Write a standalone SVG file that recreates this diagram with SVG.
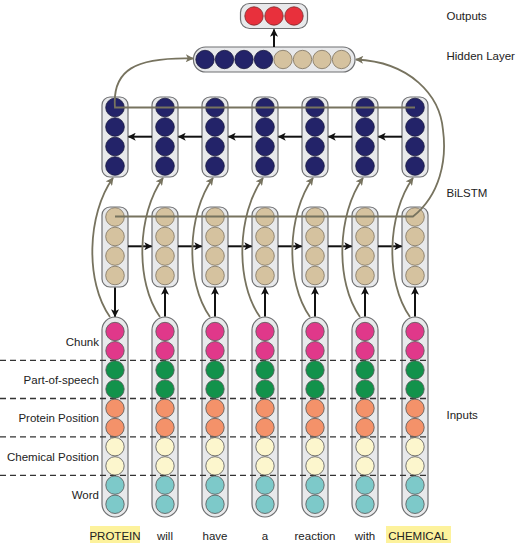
<svg xmlns="http://www.w3.org/2000/svg" width="520" height="545" viewBox="0 0 520 545">
<style>
.col{fill:#e8e9eb;stroke:#6f7072;stroke-width:1.2}
circle{stroke:#555;stroke-width:0.8}
.ck{fill:#e0388a}.ps{fill:#12924b}.pp{fill:#f4926a}.cp{fill:#fcf6cd}.wd{fill:#7dc9c9}
.nv{fill:#232369;stroke:#1a1a40}.tn{fill:#d5c29f;stroke:#7d7260}.rd{fill:#e8303c;stroke:#7a2a2a}
.blk{fill:none;stroke:#111;stroke-width:2}
.brn{fill:none;stroke:#77735f;stroke-width:1.8}
.dash{stroke:#333;stroke-width:1.3;stroke-dasharray:6 4}
text{font-family:"Liberation Sans",Arial,sans-serif;font-size:11.5px;fill:#222}
.lab{text-anchor:end}
.wrd{text-anchor:middle}
.hl{fill:#fdf29c}
</style>
<defs>
<marker id="ab" viewBox="0 0 10 10" refX="9" refY="5" markerWidth="9" markerHeight="8" markerUnits="userSpaceOnUse" orient="auto"><path d="M0,0 L10,5 L0,10 L2.5,5 z" fill="#111"/></marker>
<marker id="ar" viewBox="0 0 10 10" refX="9" refY="5" markerWidth="9" markerHeight="8" markerUnits="userSpaceOnUse" orient="auto"><path d="M0,0 L10,5 L0,10 L2.5,5 z" fill="#77735f"/></marker>
</defs>

<g id="output">
<rect class="col" x="240.5" y="3.5" width="67" height="25" rx="9"/>
<circle class="rd" cx="254" cy="16" r="9.2"/><circle class="rd" cx="274" cy="16" r="9.2"/><circle class="rd" cx="294" cy="16" r="9.2"/>
</g>
<g id="hidden">
<rect class="col" x="193.5" y="47" width="161.5" height="25" rx="12"/>
<circle class="nv" cx="205" cy="59.5" r="9.2"/><circle class="nv" cx="224.5" cy="59.5" r="9.2"/><circle class="nv" cx="244" cy="59.5" r="9.2"/><circle class="nv" cx="263.5" cy="59.5" r="9.2"/>
<circle class="tn" cx="283" cy="59.5" r="9.2"/><circle class="tn" cx="302.5" cy="59.5" r="9.2"/><circle class="tn" cx="322" cy="59.5" r="9.2"/><circle class="tn" cx="341.5" cy="59.5" r="9.2"/>
</g>

<g id="backward">
<g id="bw1"><rect class="col" x="102" y="97" width="26" height="80" rx="8"/><circle class="nv" cx="115" cy="107.5" r="9.3"/><circle class="nv" cx="115" cy="127" r="9.3"/><circle class="nv" cx="115" cy="146.5" r="9.3"/><circle class="nv" cx="115" cy="166" r="9.3"/></g>
<g id="bw2"><rect class="col" x="152" y="97" width="26" height="80" rx="8"/><circle class="nv" cx="165" cy="107.5" r="9.3"/><circle class="nv" cx="165" cy="127" r="9.3"/><circle class="nv" cx="165" cy="146.5" r="9.3"/><circle class="nv" cx="165" cy="166" r="9.3"/></g>
<g id="bw3"><rect class="col" x="202" y="97" width="26" height="80" rx="8"/><circle class="nv" cx="215" cy="107.5" r="9.3"/><circle class="nv" cx="215" cy="127" r="9.3"/><circle class="nv" cx="215" cy="146.5" r="9.3"/><circle class="nv" cx="215" cy="166" r="9.3"/></g>
<g id="bw4"><rect class="col" x="252" y="97" width="26" height="80" rx="8"/><circle class="nv" cx="265" cy="107.5" r="9.3"/><circle class="nv" cx="265" cy="127" r="9.3"/><circle class="nv" cx="265" cy="146.5" r="9.3"/><circle class="nv" cx="265" cy="166" r="9.3"/></g>
<g id="bw5"><rect class="col" x="302" y="97" width="26" height="80" rx="8"/><circle class="nv" cx="315" cy="107.5" r="9.3"/><circle class="nv" cx="315" cy="127" r="9.3"/><circle class="nv" cx="315" cy="146.5" r="9.3"/><circle class="nv" cx="315" cy="166" r="9.3"/></g>
<g id="bw6"><rect class="col" x="352" y="97" width="26" height="80" rx="8"/><circle class="nv" cx="365" cy="107.5" r="9.3"/><circle class="nv" cx="365" cy="127" r="9.3"/><circle class="nv" cx="365" cy="146.5" r="9.3"/><circle class="nv" cx="365" cy="166" r="9.3"/></g>
<g id="bw7"><rect class="col" x="402" y="97" width="26" height="80" rx="8"/><circle class="nv" cx="415" cy="107.5" r="9.3"/><circle class="nv" cx="415" cy="127" r="9.3"/><circle class="nv" cx="415" cy="146.5" r="9.3"/><circle class="nv" cx="415" cy="166" r="9.3"/></g>
</g>

<g id="forward">
<g id="fw1"><rect class="col" x="102" y="207" width="26" height="80" rx="8"/><circle class="tn" cx="115" cy="217" r="9.3"/><circle class="tn" cx="115" cy="236.5" r="9.3"/><circle class="tn" cx="115" cy="256" r="9.3"/><circle class="tn" cx="115" cy="275.5" r="9.3"/></g>
<g id="fw2"><rect class="col" x="152" y="207" width="26" height="80" rx="8"/><circle class="tn" cx="165" cy="217" r="9.3"/><circle class="tn" cx="165" cy="236.5" r="9.3"/><circle class="tn" cx="165" cy="256" r="9.3"/><circle class="tn" cx="165" cy="275.5" r="9.3"/></g>
<g id="fw3"><rect class="col" x="202" y="207" width="26" height="80" rx="8"/><circle class="tn" cx="215" cy="217" r="9.3"/><circle class="tn" cx="215" cy="236.5" r="9.3"/><circle class="tn" cx="215" cy="256" r="9.3"/><circle class="tn" cx="215" cy="275.5" r="9.3"/></g>
<g id="fw4"><rect class="col" x="252" y="207" width="26" height="80" rx="8"/><circle class="tn" cx="265" cy="217" r="9.3"/><circle class="tn" cx="265" cy="236.5" r="9.3"/><circle class="tn" cx="265" cy="256" r="9.3"/><circle class="tn" cx="265" cy="275.5" r="9.3"/></g>
<g id="fw5"><rect class="col" x="302" y="207" width="26" height="80" rx="8"/><circle class="tn" cx="315" cy="217" r="9.3"/><circle class="tn" cx="315" cy="236.5" r="9.3"/><circle class="tn" cx="315" cy="256" r="9.3"/><circle class="tn" cx="315" cy="275.5" r="9.3"/></g>
<g id="fw6"><rect class="col" x="352" y="207" width="26" height="80" rx="8"/><circle class="tn" cx="365" cy="217" r="9.3"/><circle class="tn" cx="365" cy="236.5" r="9.3"/><circle class="tn" cx="365" cy="256" r="9.3"/><circle class="tn" cx="365" cy="275.5" r="9.3"/></g>
<g id="fw7"><rect class="col" x="402" y="207" width="26" height="80" rx="8"/><circle class="tn" cx="415" cy="217" r="9.3"/><circle class="tn" cx="415" cy="236.5" r="9.3"/><circle class="tn" cx="415" cy="256" r="9.3"/><circle class="tn" cx="415" cy="275.5" r="9.3"/></g>
</g>

<g id="inputs">
<g id="colrects">
<rect class="col" x="102" y="317" width="26" height="200" rx="13"/>
<rect class="col" x="152" y="317" width="26" height="200" rx="13"/>
<rect class="col" x="202" y="317" width="26" height="200" rx="13"/>
<rect class="col" x="252" y="317" width="26" height="200" rx="13"/>
<rect class="col" x="302" y="317" width="26" height="200" rx="13"/>
<rect class="col" x="352" y="317" width="26" height="200" rx="13"/>
<rect class="col" x="402" y="317" width="26" height="200" rx="13"/>
</g>
<g id="separators">
<line class="dash" x1="0" y1="360.3" x2="428" y2="360.3"/>
<line class="dash" x1="0" y1="398.5" x2="428" y2="398.5"/>
<line class="dash" x1="0" y1="436.9" x2="428" y2="436.9"/>
<line class="dash" x1="0" y1="475.3" x2="428" y2="475.3"/>
</g>
<g id="in1"><circle class="ck" cx="115" cy="331.5" r="9.2"/><circle class="ck" cx="115" cy="350.7" r="9.2"/><circle class="ps" cx="115" cy="369.9" r="9.2"/><circle class="ps" cx="115" cy="389.1" r="9.2"/><circle class="pp" cx="115" cy="408.3" r="9.2"/><circle class="pp" cx="115" cy="427.5" r="9.2"/><circle class="cp" cx="115" cy="446.7" r="9.2"/><circle class="cp" cx="115" cy="465.9" r="9.2"/><circle class="wd" cx="115" cy="485.1" r="9.2"/><circle class="wd" cx="115" cy="504.3" r="9.2"/></g>
<g id="in2"><circle class="ck" cx="165" cy="331.5" r="9.2"/><circle class="ck" cx="165" cy="350.7" r="9.2"/><circle class="ps" cx="165" cy="369.9" r="9.2"/><circle class="ps" cx="165" cy="389.1" r="9.2"/><circle class="pp" cx="165" cy="408.3" r="9.2"/><circle class="pp" cx="165" cy="427.5" r="9.2"/><circle class="cp" cx="165" cy="446.7" r="9.2"/><circle class="cp" cx="165" cy="465.9" r="9.2"/><circle class="wd" cx="165" cy="485.1" r="9.2"/><circle class="wd" cx="165" cy="504.3" r="9.2"/></g>
<g id="in3"><circle class="ck" cx="215" cy="331.5" r="9.2"/><circle class="ck" cx="215" cy="350.7" r="9.2"/><circle class="ps" cx="215" cy="369.9" r="9.2"/><circle class="ps" cx="215" cy="389.1" r="9.2"/><circle class="pp" cx="215" cy="408.3" r="9.2"/><circle class="pp" cx="215" cy="427.5" r="9.2"/><circle class="cp" cx="215" cy="446.7" r="9.2"/><circle class="cp" cx="215" cy="465.9" r="9.2"/><circle class="wd" cx="215" cy="485.1" r="9.2"/><circle class="wd" cx="215" cy="504.3" r="9.2"/></g>
<g id="in4"><circle class="ck" cx="265" cy="331.5" r="9.2"/><circle class="ck" cx="265" cy="350.7" r="9.2"/><circle class="ps" cx="265" cy="369.9" r="9.2"/><circle class="ps" cx="265" cy="389.1" r="9.2"/><circle class="pp" cx="265" cy="408.3" r="9.2"/><circle class="pp" cx="265" cy="427.5" r="9.2"/><circle class="cp" cx="265" cy="446.7" r="9.2"/><circle class="cp" cx="265" cy="465.9" r="9.2"/><circle class="wd" cx="265" cy="485.1" r="9.2"/><circle class="wd" cx="265" cy="504.3" r="9.2"/></g>
<g id="in5"><circle class="ck" cx="315" cy="331.5" r="9.2"/><circle class="ck" cx="315" cy="350.7" r="9.2"/><circle class="ps" cx="315" cy="369.9" r="9.2"/><circle class="ps" cx="315" cy="389.1" r="9.2"/><circle class="pp" cx="315" cy="408.3" r="9.2"/><circle class="pp" cx="315" cy="427.5" r="9.2"/><circle class="cp" cx="315" cy="446.7" r="9.2"/><circle class="cp" cx="315" cy="465.9" r="9.2"/><circle class="wd" cx="315" cy="485.1" r="9.2"/><circle class="wd" cx="315" cy="504.3" r="9.2"/></g>
<g id="in6"><circle class="ck" cx="365" cy="331.5" r="9.2"/><circle class="ck" cx="365" cy="350.7" r="9.2"/><circle class="ps" cx="365" cy="369.9" r="9.2"/><circle class="ps" cx="365" cy="389.1" r="9.2"/><circle class="pp" cx="365" cy="408.3" r="9.2"/><circle class="pp" cx="365" cy="427.5" r="9.2"/><circle class="cp" cx="365" cy="446.7" r="9.2"/><circle class="cp" cx="365" cy="465.9" r="9.2"/><circle class="wd" cx="365" cy="485.1" r="9.2"/><circle class="wd" cx="365" cy="504.3" r="9.2"/></g>
<g id="in7"><circle class="ck" cx="415" cy="331.5" r="9.2"/><circle class="ck" cx="415" cy="350.7" r="9.2"/><circle class="ps" cx="415" cy="369.9" r="9.2"/><circle class="ps" cx="415" cy="389.1" r="9.2"/><circle class="pp" cx="415" cy="408.3" r="9.2"/><circle class="pp" cx="415" cy="427.5" r="9.2"/><circle class="cp" cx="415" cy="446.7" r="9.2"/><circle class="cp" cx="415" cy="465.9" r="9.2"/><circle class="wd" cx="415" cy="485.1" r="9.2"/><circle class="wd" cx="415" cy="504.3" r="9.2"/></g>
</g>

<g id="connectors">
<path class="blk" marker-end="url(#ab)" d="M274,47 L274,29.5"/>
<path class="blk" marker-end="url(#ab)" d="M152,136.7 L128.5,136.7"/>
<path class="blk" marker-end="url(#ab)" d="M202,136.7 L178.5,136.7"/>
<path class="blk" marker-end="url(#ab)" d="M252,136.7 L228.5,136.7"/>
<path class="blk" marker-end="url(#ab)" d="M302,136.7 L278.5,136.7"/>
<path class="blk" marker-end="url(#ab)" d="M352,136.7 L328.5,136.7"/>
<path class="blk" marker-end="url(#ab)" d="M402,136.7 L378.5,136.7"/>
<path class="blk" marker-end="url(#ab)" d="M128,246.3 L151.5,246.3"/>
<path class="blk" marker-end="url(#ab)" d="M178,246.3 L201.5,246.3"/>
<path class="blk" marker-end="url(#ab)" d="M228,246.3 L251.5,246.3"/>
<path class="blk" marker-end="url(#ab)" d="M278,246.3 L301.5,246.3"/>
<path class="blk" marker-end="url(#ab)" d="M328,246.3 L351.5,246.3"/>
<path class="blk" marker-end="url(#ab)" d="M378,246.3 L401.5,246.3"/>
<path class="blk" marker-end="url(#ab)" d="M115,287.5 L115,316.5"/>
<path class="blk" marker-end="url(#ab)" d="M165,316.5 L165,287.5"/>
<path class="blk" marker-end="url(#ab)" d="M215,316.5 L215,287.5"/>
<path class="blk" marker-end="url(#ab)" d="M265,316.5 L265,287.5"/>
<path class="blk" marker-end="url(#ab)" d="M315,316.5 L315,287.5"/>
<path class="blk" marker-end="url(#ab)" d="M365,316.5 L365,287.5"/>
<path class="blk" marker-end="url(#ab)" d="M415,316.5 L415,287.5"/>
<path class="brn" marker-end="url(#ar)" d="M110,317 C85,282 87,214 113,178"/>
<path class="brn" marker-end="url(#ar)" d="M160,317 C135,282 137,214 163,178"/>
<path class="brn" marker-end="url(#ar)" d="M210,317 C185,282 187,214 213,178"/>
<path class="brn" marker-end="url(#ar)" d="M260,317 C235,282 237,214 263,178"/>
<path class="brn" marker-end="url(#ar)" d="M310,317 C285,282 287,214 313,178"/>
<path class="brn" marker-end="url(#ar)" d="M360,317 C335,282 337,214 363,178"/>
<path class="brn" marker-end="url(#ar)" d="M410,317 C385,282 387,214 413,178"/>
<path class="brn" marker-end="url(#ar)" d="M415,107.5 L115,107.5 C112,70 135,57 193,58.5"/>
<path class="brn" marker-end="url(#ar)" d="M115,216.5 L413,216.5 C440,195 447,160 443,130 C440,95 410,62 356,59.5"/>
</g>

<g id="labels">
<text x="446.5" y="20">Outputs</text>
<text x="446.5" y="59.5">Hidden Layer</text>
<text x="446.5" y="196.5">BiLSTM</text>
<text x="446.5" y="418.5">Inputs</text>
<text class="lab" x="99" y="346">Chunk</text>
<text class="lab" x="99" y="384">Part-of-speech</text>
<text class="lab" x="99" y="422">Protein Position</text>
<text class="lab" x="99" y="460.5">Chemical Position</text>
<text class="lab" x="99" y="498.5">Word</text>
</g>

<g id="sentence">
<rect class="hl" x="90" y="526" width="50" height="17"/>
<rect class="hl" x="386" y="526" width="65" height="17"/>
<text class="wrd" x="115" y="539.5">PROTEIN</text>
<text class="wrd" x="165" y="539.5">will</text>
<text class="wrd" x="215" y="539.5">have</text>
<text class="wrd" x="265" y="539.5">a</text>
<text class="wrd" x="315" y="539.5">reaction</text>
<text class="wrd" x="365" y="539.5">with</text>
<text class="wrd" x="418" y="539.5">CHEMICAL</text>
</g>
</svg>
